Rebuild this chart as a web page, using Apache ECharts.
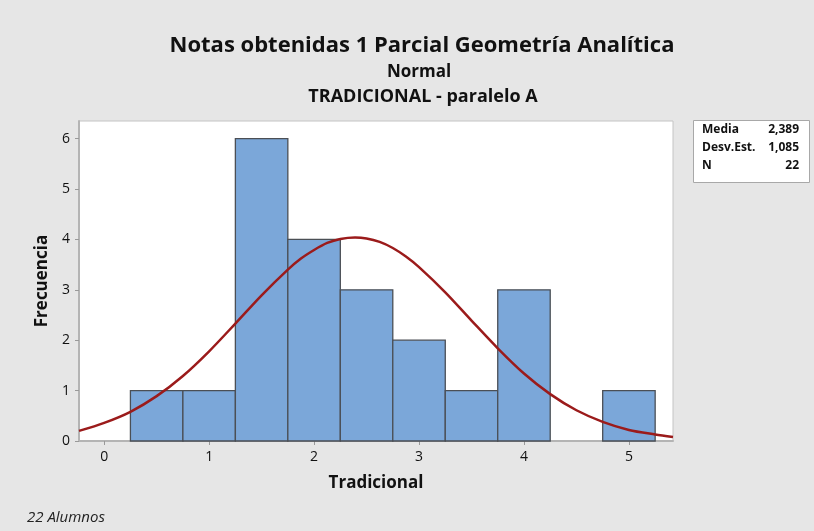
<!DOCTYPE html>
<html lang="es">
<head>
    <meta charset="UTF-8">
    <title>Notas obtenidas 1 Parcial</title>
    <style>
        body{
            margin: 0;
            background-color: #e6e6e6;
        }
        #chart{
            width: 814px;
            height: 531px;
        }
    </style>
    <script src="https://cdn.jsdelivr.net/npm/echarts@6/dist/echarts.min.js"></script>
</head>
<body>
<div id="chart"></div>
<script type="text/javascript">
    // centros de las clases y frecuencias
    var binCenters = [0.5, 1.0, 1.5, 2.0, 2.5, 3.0, 3.5, 4.0, 4.5, 5.0];
    var binCounts = [1, 1, 6, 4, 3, 2, 1, 3, 0, 1];
    var binWidth = 0.5;
    // curva normal ajustada
    var curveX = [-0.24, 0, 0.25, 0.5, 0.75, 1.0, 1.25, 1.5, 1.75, 1.875, 2.0, 2.125, 2.25, 2.39, 2.5, 2.625, 2.75, 2.875, 3.0, 3.25, 3.5, 3.75, 4.0, 4.25, 4.5, 4.75, 5.0, 5.25, 5.42];
    var curveY = [0.20, 0.36, 0.58, 0.89, 1.29, 1.78, 2.33, 2.89, 3.40, 3.62, 3.79, 3.93, 4.01, 4.04, 4.02, 3.95, 3.83, 3.66, 3.45, 2.95, 2.39, 1.84, 1.34, 0.93, 0.61, 0.38, 0.22, 0.13, 0.08];
    var xTicks = [0, 1, 2, 3, 4, 5];
    var yTicks = [0, 1, 2, 3, 4, 5, 6];
    var statNames = ['Media', 'Desv.Est.', 'N'];
    var statValues = ['2,389', '1,085', '22'];

    var font = '"Open Sans", "Noto Sans", sans-serif';

    var bars = [];
    for (var i = 0; i < binCenters.length; i++) {
        bars.push([binCenters[i] - binWidth / 2, binCenters[i] + binWidth / 2, binCounts[i]]);
    }
    var curve = [];
    for (var j = 0; j < curveX.length; j++) {
        curve.push([curveX[j], curveY[j]]);
    }

    var statTexts = [];
    for (var k = 0; k < statNames.length; k++) {
        statTexts.push({
            type: 'text', left: 702, top: 124 + k * 18,
            style: {text: statNames[k], font: 'bold 12px ' + font, fill: '#111'}
        });
        statTexts.push({
            type: 'text', right: 15, top: 124 + k * 18,
            style: {text: statValues[k], font: 'bold 12px ' + font, fill: '#111', textAlign: 'right'}
        });
    }

    var option = {
        backgroundColor: '#e6e6e6',
        animation: false,
        title: [
            {text: 'Notas obtenidas 1 Parcial Geometría Analítica', left: 417, top: 30, textAlign: 'center',
                textStyle: {fontFamily: font, fontSize: 22, fontWeight: 'bold', color: '#111'}},
            {text: 'Normal', left: 414, top: 59, textAlign: 'center',
                textStyle: {fontFamily: font, fontSize: 17, fontWeight: 'bold', color: '#111'}},
            {text: 'TRADICIONAL - paralelo A', left: 418, top: 83, textAlign: 'center',
                textStyle: {fontFamily: font, fontSize: 18, fontWeight: 'bold', color: '#111'}},
            {text: '22 Alumnos', left: 22, top: 505,
                textStyle: {fontFamily: font, fontSize: 15, fontWeight: 'normal', fontStyle: 'italic', color: '#222'}}
        ],
        graphic: [
            {type: 'rect', left: 693, top: 120, shape: {width: 116, height: 62},
                style: {fill: '#fff', stroke: '#a8a8a8', lineWidth: 1}}
        ].concat(statTexts),
        grid: {left: 79, right: 141, top: 121, bottom: 90, show: true,
            backgroundColor: '#fff', borderColor: '#c4c4c4', borderWidth: 1},
        xAxis: {
            type: 'value', min: -0.24, max: 5.42,
            name: 'Tradicional', nameLocation: 'middle', nameGap: 34,
            nameTextStyle: {fontFamily: font, fontSize: 17, fontWeight: 'bold', color: '#111'},
            axisLine: {show: true, onZero: false, lineStyle: {color: '#b4b4b4', width: 2}},
            axisTick: {show: true, length: 4, customValues: xTicks, lineStyle: {color: '#999'}},
            axisLabel: {customValues: xTicks, margin: 9, fontFamily: font, fontSize: 14, color: '#111'},
            splitLine: {show: false}
        },
        yAxis: {
            type: 'value', min: 0, max: 6.35,
            name: 'Frecuencia', nameLocation: 'middle', nameGap: 27,
            nameTextStyle: {fontFamily: font, fontSize: 17, fontWeight: 'bold', color: '#111'},
            axisLine: {show: true, onZero: false, lineStyle: {color: '#b4b4b4', width: 2}},
            axisTick: {show: true, length: 4, customValues: yTicks, lineStyle: {color: '#999'}},
            axisLabel: {customValues: yTicks, margin: 9, fontFamily: font, fontSize: 14, color: '#111'},
            splitLine: {show: false}
        },
        series: [
            {
                type: 'custom',
                data: bars,
                encode: {x: [0, 1], y: 2},
                renderItem: function (params, api) {
                    var p0 = api.coord([api.value(0), 0]);
                    var p1 = api.coord([api.value(1), api.value(2)]);
                    if (api.value(2) === 0) return;
                    return {
                        type: 'rect',
                        shape: {x: p0[0], y: p1[1], width: p1[0] - p0[0], height: p0[1] - p1[1]},
                        style: {fill: '#7ba7d9', stroke: '#4b4f55', lineWidth: 1.3}
                    };
                }
            },
            {
                type: 'line',
                data: curve,
                smooth: 0.3,
                symbol: 'none',
                lineStyle: {color: '#9b1b1b', width: 2.5}
            }
        ]
    };
    var chart = echarts.init(document.getElementById('chart'));
    chart.setOption(option);
</script>
</body>
</html>
